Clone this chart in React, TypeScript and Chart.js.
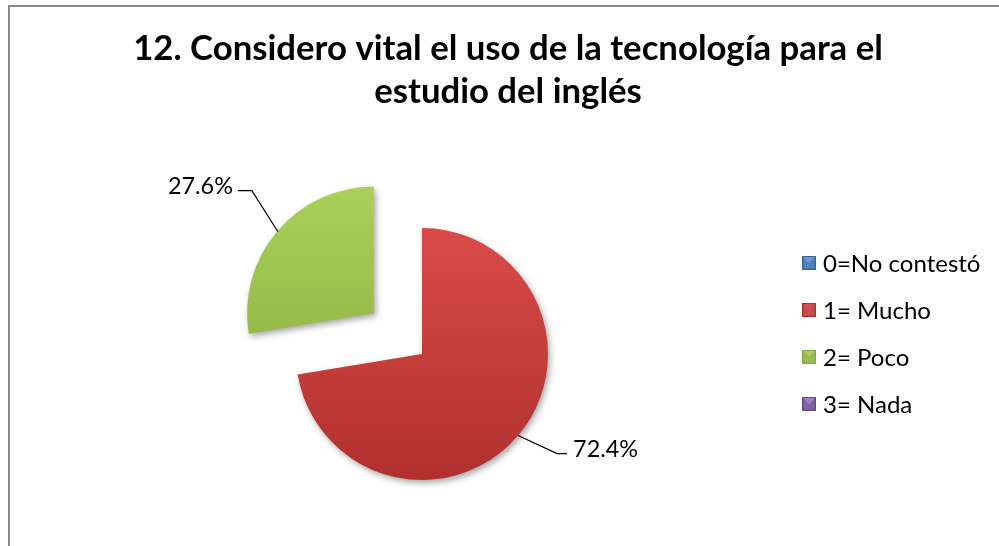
import React, { useEffect, useRef } from "react";
import { Chart, ArcElement, PieController } from "chart.js";

Chart.register(ArcElement, PieController);

const categories = ["0=No contestó", "1= Mucho", "2= Poco", "3= Nada"];
const percentages = [0, 72.4, 27.6, 0];
const valueLabels = ["0.0%", "72.4%", "27.6%", "0.0%"];
const sliceColors = ["#4F81BD", "#C0504D", "#9BBB59", "#8064A2"];
const gradientTop = ["#6E98D0", "#D94B48", "#AAD05A", "#9D82C0"];
const gradientBottom = ["#3A659C", "#B0302F", "#88AC3D", "#634A86"];
const explodeOffset = [0, 0, 252, 0];
const titleLines = [
  "12. Considero vital el uso de la tecnología para el",
  "estudio del inglés",
];

const FONT = "Lato, 'Noto Sans', sans-serif";
const RADIUS = 126;

function fitSize(ctx: CanvasRenderingContext2D, text: string, weight: string, target: number) {
  ctx.font = `${weight} 100px ${FONT}`;
  const w = ctx.measureText(text).width;
  return (100 * target) / w;
}

const decorPlugin = {
  id: "decor",
  beforeDatasetsDraw(chart: any) {
    const ctx = chart.ctx;
    ctx.save();
    ctx.shadowColor = "rgba(0,0,0,0.35)";
    ctx.shadowBlur = 6;
    ctx.shadowOffsetX = 2;
    ctx.shadowOffsetY = 3;
  },
  afterDatasetsDraw(chart: any) {
    const ctx: CanvasRenderingContext2D = chart.ctx;
    ctx.restore();
    const meta = chart.getDatasetMeta(0);
    const labelSize = fitSize(ctx, "72.4%", "400", 65);
    meta.data.forEach((arc: any, i: number) => {
      if (!percentages[i]) return;
      const p = arc.getProps(["x", "y", "startAngle", "endAngle", "outerRadius"], true);
      const mid = (p.startAngle + p.endAngle) / 2;
      const sh = explodeOffset[i] / 4;
      const cx = p.x + Math.cos(mid) * sh;
      const cy = p.y + Math.sin(mid) * sh;
      const px = cx + Math.cos(mid) * p.outerRadius;
      const py = cy + Math.sin(mid) * p.outerRadius;
      const right = Math.cos(mid) >= 0;
      const down = Math.sin(mid) >= 0;
      const ex = px + (right ? 39 : -26);
      const ey = py + (down ? 18 : -41);
      const hx = ex + (right ? 10 : -14);
      ctx.save();
      ctx.strokeStyle = "#000";
      ctx.lineWidth = 1.2;
      ctx.beginPath();
      ctx.moveTo(px, py);
      ctx.lineTo(ex, ey);
      ctx.lineTo(hx, ey);
      ctx.stroke();
      ctx.fillStyle = "#000";
      ctx.font = `400 ${labelSize}px ${FONT}`;
      ctx.textBaseline = "alphabetic";
      ctx.textAlign = right ? "left" : "right";
      ctx.fillText(valueLabels[i], right ? hx + 6 : hx - 5, ey + 3);
      ctx.restore();
    });
  },
  afterDraw(chart: any) {
    const ctx: CanvasRenderingContext2D = chart.ctx;
    ctx.save();
    // Title
    const tSize = fitSize(ctx, titleLines[0], "700", 750);
    ctx.font = `700 ${tSize}px ${FONT}`;
    ctx.fillStyle = "#000";
    ctx.textAlign = "center";
    ctx.textBaseline = "alphabetic";
    ctx.fillText(titleLines[0], 508, 60);
    ctx.fillText(titleLines[1], 508, 103);
    // Legend
    const lSize = fitSize(ctx, categories[1], "400", 108);
    ctx.font = `400 ${lSize}px ${FONT}`;
    ctx.textAlign = "left";
    categories.forEach((c, i) => {
      const yc = 263 + i * 47;
      const s = 14;
      const x0 = 802;
      const y0 = yc - s / 2;
      ctx.fillStyle = gradientBottom[i];
      ctx.fillRect(x0, y0, s, s);
      ctx.fillStyle = sliceColors[i];
      ctx.fillRect(x0 + 1.5, y0 + 1.5, s - 3, s - 3);
      ctx.fillStyle = gradientTop[i];
      ctx.beginPath();
      ctx.moveTo(x0 + 1, y0 + 1);
      ctx.lineTo(x0 + s - 1, y0 + 1);
      ctx.lineTo(x0 + s / 2, y0 + s / 2);
      ctx.closePath();
      ctx.fill();
      ctx.fillStyle = "#000";
      ctx.fillText(c, 823, yc + lSize * 0.36);
    });
    ctx.restore();
  },
};

export default function App() {
  const ref = useRef<HTMLCanvasElement | null>(null);
  useEffect(() => {
    if (!ref.current) return;
    const total = percentages.reduce((a, b) => a + b, 0);
    const chart = new Chart(ref.current, {
      type: "pie",
      data: {
        labels: categories,
        datasets: [
          {
            data: percentages,
            backgroundColor: (c: any) => {
              const i = c.dataIndex;
              const area = c.chart.chartArea;
              if (!area) return sliceColors[i];
              const cy = (area.top + area.bottom) / 2;
              const g = c.chart.ctx.createLinearGradient(0, cy - RADIUS, 0, cy + RADIUS);
              g.addColorStop(0, gradientTop[i]);
              g.addColorStop(1, gradientBottom[i]);
              return g;
            },
            borderWidth: 0,
            offset: explodeOffset,
            clip: false,
          } as any,
        ],
      },
      options: {
        animation: false,
        responsive: false,
        radius: RADIUS,
        layout: { padding: { left: 0, top: 162, right: 155, bottom: 0 } },
        plugins: { legend: { display: false }, tooltip: { enabled: false } },
        events: [],
      } as any,
      plugins: [decorPlugin],
    });
    void total;
    return () => chart.destroy();
  }, []);

  return (
    <div
      style={{
        position: "fixed",
        left: 0,
        top: 0,
        width: 999,
        height: 546,
        overflow: "hidden",
        background: "#fff",
      }}
    >
      <div
        style={{
          position: "absolute",
          left: 8,
          top: 5,
          width: 1100,
          height: 700,
          borderLeft: "2px solid #898989",
          borderTop: "2px solid #898989",
        }}
      />
      <canvas
        ref={ref}
        width={999}
        height={546}
        style={{ position: "absolute", left: 0, top: 0, width: 999, height: 546 }}
      />
    </div>
  );
}
